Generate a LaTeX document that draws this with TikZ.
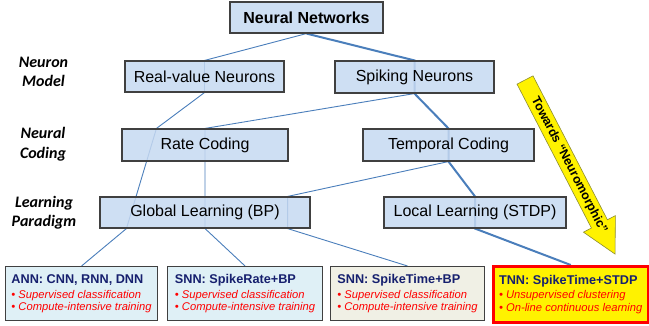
\documentclass[tikz,border=0pt]{standalone}
\usepackage{fontspec}
\setmainfont{Liberation Sans}
\newfontfamily\lblfont{Carlito}
\usetikzlibrary{calc,backgrounds}
\definecolor{boxblue}{HTML}{C6D9F1}
\definecolor{boxedge}{HTML}{404040}
\definecolor{wirecol}{HTML}{4A7EBB}
\definecolor{annfill}{HTML}{DCEEF5}
\definecolor{beigefill}{HTML}{EEEEE2}
\definecolor{navyhd}{HTML}{16206E}
\definecolor{arrowedge}{HTML}{8C8C30}
\newcommand\leafhead[1]{{\fontsize{12.7}{14}\selectfont\bfseries\color{navyhd}#1}}
\newcommand\leafitem[1]{{\itshape\color{red}\textbullet\ #1}}
\begin{document}
\begin{tikzpicture}[x=1pt,y=-1pt,
  catbox/.style={draw=boxedge, line width=1.1pt, fill=boxblue, fill opacity=0.85,
    text opacity=1, inner sep=0pt, font=\fontsize{16}{19}\selectfont},
  leafbox/.style={draw=boxedge, line width=1.1pt, fill opacity=0.9, text opacity=1,
    inner xsep=2pt, inner ysep=0pt, align=left, anchor=north west,
    font=\fontsize{11.2}{12.2}\selectfont},
  thinwire/.style={draw=wirecol, line width=0.9pt},
  thickwire/.style={draw=wirecol, line width=2pt},
  rowlabel/.style={font=\lblfont\bfseries\itshape\fontsize{16}{19.5}\selectfont, align=center}
]
\useasboundingbox (0,0) rectangle (649,325);

% taxonomy boxes
\node[catbox, minimum width=153, minimum height=31] (nn) at (306.5,17.5) {\bfseries Neural Networks};
\node[catbox, minimum width=159, minimum height=31] (rv) at (204.5,76.5) {Real-value Neurons};
\node[catbox, minimum width=159, minimum height=32] (sn) at (414.5,77) {Spiking Neurons};
\node[catbox, minimum width=166, minimum height=32] (rc) at (205,145) {Rate Coding};
\node[catbox, minimum width=171, minimum height=32] (tc) at (448.5,145) {Temporal Coding};
\node[catbox, minimum width=210, minimum height=31] (gl) at (205,212.5) {Global Learning (BP)};
\node[catbox, minimum width=182, minimum height=31] (ll) at (475,212.5) {Local Learning (STDP)};

% resulting network families
\node[leafbox, fill=annfill, minimum width=152, minimum height=54] (ann) at (5,266)
  {\leafhead{ANN: CNN, RNN, DNN}\\[2.5pt]\leafitem{Supervised classification}\\\leafitem{Compute-intensive training}};
\node[leafbox, fill=annfill, minimum width=155, minimum height=54] (snr) at (167,266)
  {\leafhead{SNN: SpikeRate+BP}\\[2.5pt]\leafitem{Supervised classification}\\\leafitem{Compute-intensive training}};
\node[leafbox, fill=beigefill, minimum width=154, minimum height=54] (snt) at (330,266)
  {\leafhead{SNN: SpikeTime+BP}\\[2.5pt]\leafitem{Supervised classification}\\\leafitem{Compute-intensive training}};
\node[leafbox, draw=red, line width=2.5pt, fill=yellow, fill opacity=1,
  minimum width=155, minimum height=56] (tnn) at (492,265)
  {\leafhead{TNN: SpikeTime+STDP}\\[2.5pt]\leafitem{Unsupervised clustering}\\\leafitem{On-line continuous learning}};

% row labels
\node[rowlabel] (lm) at (43.5,72) {Neuron\\Model};
\node[rowlabel] (lc) at (43,144) {Neural\\Coding};
\node[rowlabel] (lp) at (44,212.5) {Learning\\Paradigm};

% bend points of the connectors
\coordinate (rcA) at ([xshift=35]rc.north west);
\coordinate (glA) at ([xshift=27]gl.south west);
\coordinate (glB) at ([xshift=-23]gl.north east);
\coordinate (glC) at ([xshift=-23]gl.south east);

\begin{scope}[on background layer]
  \draw[thinwire] (nn.south) -- (rv.north) -- (rv.south) -- (rcA) -- (glA) -- (ann.north);
  \draw[thinwire] (sn.south) -- (rc.north) -- (gl.south) -- (snr.north);
  \draw[thinwire] (tc.south) -- (glB) -- (glC) -- (snt.north);
  \draw[thickwire] (nn.south) -- (sn.north) -- (sn.south) -- (tc.north) -- (tc.south)
    -- (ll.north) -- (ll.south) -- (tnn.north);
\end{scope}

% block arrow towards the neuromorphic corner
\begin{scope}[shift={(525,80)}, rotate=-62.65]
  \draw[fill=yellow, draw=arrowedge, line width=0.6pt]
    (0,9) -- (162,9) -- (162,18) -- (196,0) -- (162,-18) -- (162,-9) -- (0,-9) -- cycle;
  \node[transform shape, font=\fontsize{12.5}{14}\selectfont\bfseries, inner sep=0pt] (tw) at (96,0)
    {Towards “Neuromorphic”};
\end{scope}
\end{tikzpicture}
\end{document}
